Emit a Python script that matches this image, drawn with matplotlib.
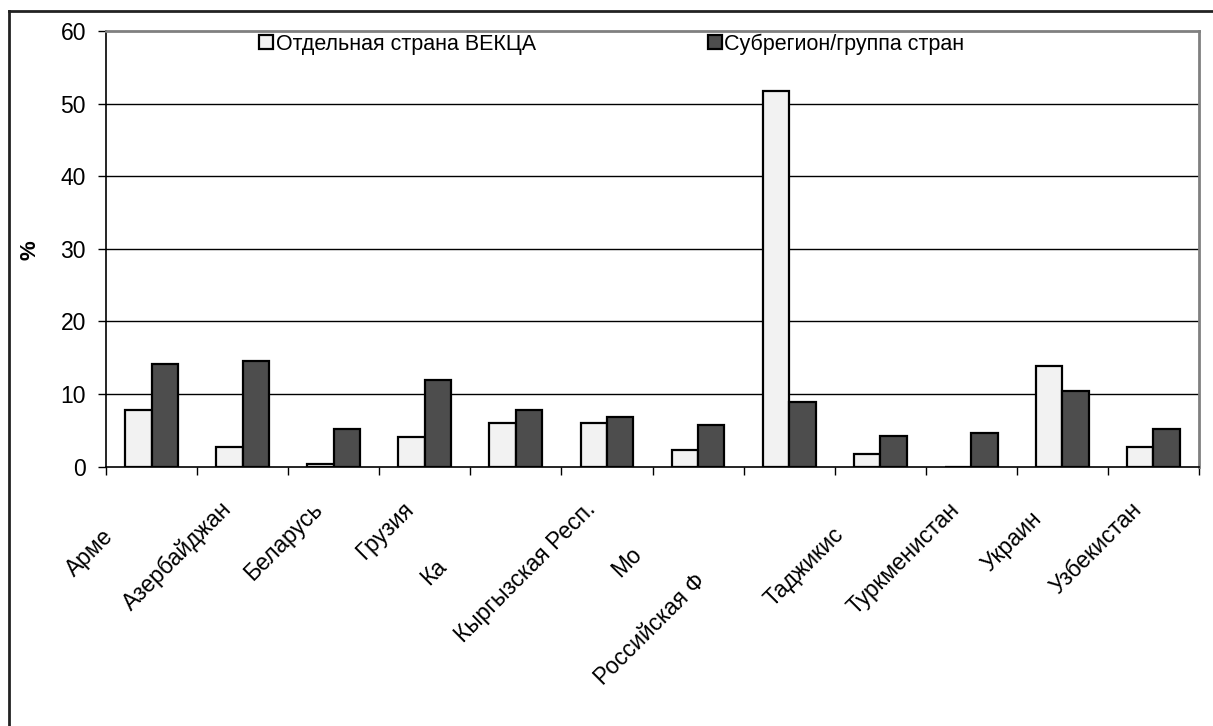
import numpy as np
import matplotlib
matplotlib.use("Agg")
import matplotlib.pyplot as plt
from matplotlib.font_manager import FontProperties
from matplotlib.lines import Line2D

plt.rcParams['font.family'] = ['Liberation Sans', 'DejaVu Sans']

categories = ["Армения", "Азербайджан", "Беларусь", "Грузия", "Казахстан",
              "Кыргызская Респ.", "Молдова", "Российская Федерация", "Таджикистан",
              "Туркменистан", "Украина", "Узбекистан"]
shown_labels = ["Арме", "Азербайджан", "Беларусь", "Грузия", "Ка",
                "Кыргызская Респ.", "Мо", "Российская Ф", "Таджикис",
                "Туркменистан", "Украин", "Узбекистан"]
country = [7.8, 2.7, 0.4, 4.1, 6.0, 6.0, 2.3, 51.8, 1.8, 0.0, 13.9, 2.7]
subregion = [14.1, 14.6, 5.2, 12.0, 7.8, 6.8, 5.8, 8.9, 4.2, 4.7, 10.4, 5.2]
series_names = ["Отдельная страна ВЕКЦА", "Субрегион/группа стран"]
yticks = [0, 10, 20, 30, 40, 50, 60]

TICK_FS = 16.5
LEG_FS = 15.5

W, H = 1213, 726
fig = plt.figure(figsize=(W / 100, H / 100), dpi=100)
ax = fig.add_axes([106 / W, 1 - 466.7 / H, (1199 - 106) / W, (466.7 - 31) / H])

x = np.arange(len(categories))
bw = 0.29
ax.bar(x - bw / 2, country, bw, color="#f2f2f2", edgecolor="black", linewidth=1.6,
       label=series_names[0], zorder=3)
ax.bar(x + bw / 2, subregion, bw, color="#4d4d4d", edgecolor="black", linewidth=1.6,
       label=series_names[1], zorder=3)

ax.set_xlim(-0.5, len(categories) - 0.5)
ax.set_ylim(0, 60)
ax.set_yticks(yticks)
ax.set_yticklabels([str(v) for v in yticks], fontsize=TICK_FS)
ax.tick_params(axis='y', length=5.8, width=1, pad=8.6)
ax.set_xticks(np.arange(len(categories) + 1) - 0.5)
ax.set_xticklabels([])
ax.tick_params(axis='x', length=5.5, width=1)
for v in yticks[1:-1]:
    ax.axhline(v, color="black", linewidth=1, zorder=1)
for s in ["top", "right"]:
    ax.spines[s].set_color("#808080")
    ax.spines[s].set_linewidth(2)
for s in ["left", "bottom"]:
    ax.spines[s].set_color("black")
    ax.spines[s].set_linewidth(1.2)

fig.text(30 / W, 1 - 250 / H, "%", rotation=90, fontsize=16, fontweight="bold",
         ha="center", va="center")

leg = ax.legend(loc="center left", bbox_to_anchor=(259 / W, 1 - 44 / H),
                bbox_transform=fig.transFigure, ncol=2, frameon=False,
                fontsize=LEG_FS, handlelength=0.65, handleheight=0.65,
                handletextpad=0.12, columnspacing=8.0, borderpad=0,
                borderaxespad=0)

# rotated category labels (long labels appear clipped at their ends)
fig.canvas.draw()
renderer = fig.canvas.get_renderer()
fp = FontProperties(family=['Liberation Sans', 'DejaVu Sans'], size=TICK_FS)
c45 = np.cos(np.radians(45))
y0 = ax.transData.transform((0, 0))[1]
for i, (full, vis) in enumerate(zip(categories, shown_labels)):
    cx = ax.transData.transform((x[i], 0))[0]
    end = np.array([cx - 23, y0 - 31])
    w, h, d = renderer.get_text_width_height_descent(full, fp, ismath=False)
    start = end - np.array([w * c45, w * c45])
    pos = fig.transFigure.inverted().transform(start)
    fig.text(pos[0], pos[1], vis, rotation=45, rotation_mode="anchor",
             ha="left", va="top", fontproperties=fp)

# outer chart frame (partially visible)
fig.add_artist(Line2D([9 / W, 1], [1 - 11 / H, 1 - 11 / H], color="#222222",
                      linewidth=2, transform=fig.transFigure))
fig.add_artist(Line2D([9 / W, 9 / W], [0, 1 - 11 / H], color="#222222",
                      linewidth=2, transform=fig.transFigure))

fig.savefig("out.png", dpi=100)
